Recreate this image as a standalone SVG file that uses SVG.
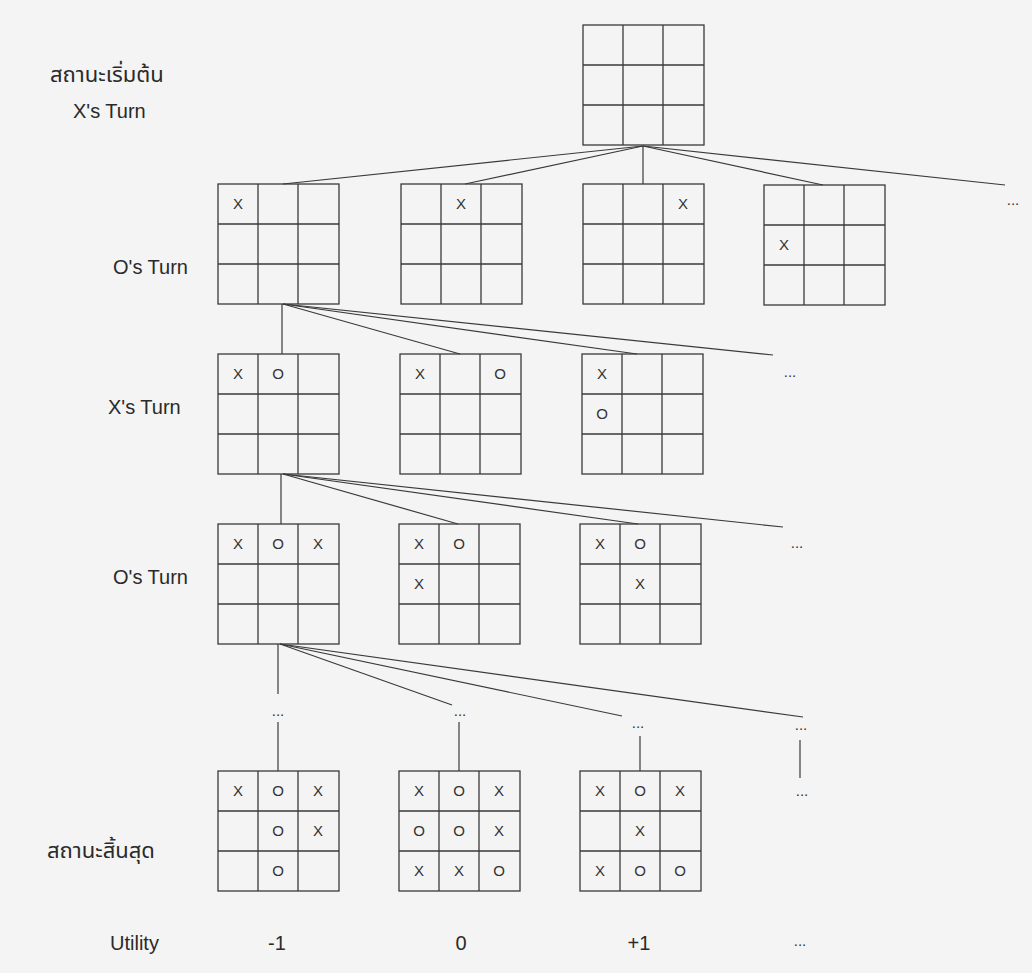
<svg xmlns="http://www.w3.org/2000/svg" width="1032" height="973" viewBox="0 0 1032 973">
<defs>
<style>
.bg{fill:#f4f4f4}
.grid{fill:none;stroke:#3a3a3a;stroke-width:1.3}
.mk{font-family:"Liberation Sans",Arial,sans-serif;font-size:15px;fill:#333;text-anchor:middle}
.lbl{font-family:"Liberation Sans",Arial,sans-serif;font-size:20px;fill:#2a2a2a}
.th{font-family:"Noto Sans Thai","Noto Sans","DejaVu Sans",sans-serif;font-size:22px;fill:#2a2a2a}
.dots{font-family:"Liberation Sans",Arial,sans-serif;font-size:15px;fill:#333;text-anchor:middle}
.util{font-family:"Liberation Sans",Arial,sans-serif;font-size:20px;fill:#2a2a2a;text-anchor:middle}
.edge{fill:none;stroke:#3a3a3a;stroke-width:1.2}
</style>
<g id="board">
<rect class="grid" x="0" y="0" width="121" height="120"/>
<line class="grid" x1="40" y1="0" x2="40" y2="120"/>
<line class="grid" x1="80" y1="0" x2="80" y2="120"/>
<line class="grid" x1="0" y1="40" x2="121" y2="40"/>
<line class="grid" x1="0" y1="80" x2="121" y2="80"/>
</g>
</defs>
<rect class="bg" x="0" y="0" width="1032" height="973"/>

<g id="labels">
<text class="th" x="50" y="82">สถานะเริ่มต้น</text>
<text class="lbl" x="73" y="118">X's Turn</text>
<text class="lbl" x="113" y="274">O's Turn</text>
<text class="lbl" x="108" y="414">X's Turn</text>
<text class="lbl" x="113" y="584">O's Turn</text>
<text class="th" x="47" y="858">สถานะสิ้นสุด</text>
<text class="lbl" x="110" y="950">Utility</text>
</g>

<g id="connectors">
<line class="edge" x1="643" y1="146" x2="283" y2="184"/>
<line class="edge" x1="643" y1="146" x2="465" y2="184"/>
<line class="edge" x1="643" y1="146" x2="643" y2="184"/>
<line class="edge" x1="643" y1="146" x2="823" y2="185"/>
<line class="edge" x1="643" y1="146" x2="1005" y2="185"/>
<line class="edge" x1="282" y1="304" x2="282" y2="354"/>
<line class="edge" x1="283" y1="304" x2="460" y2="354"/>
<line class="edge" x1="283" y1="304" x2="637" y2="354"/>
<line class="edge" x1="283" y1="304" x2="773" y2="355"/>
<line class="edge" x1="281" y1="474" x2="281" y2="524"/>
<line class="edge" x1="283" y1="474" x2="458" y2="524"/>
<line class="edge" x1="283" y1="474" x2="638" y2="524"/>
<line class="edge" x1="283" y1="474" x2="783" y2="527"/>
<line class="edge" x1="278" y1="644" x2="278" y2="694"/>
<line class="edge" x1="280" y1="644" x2="452" y2="705"/>
<line class="edge" x1="280" y1="644" x2="622" y2="716"/>
<line class="edge" x1="280" y1="644" x2="803" y2="717"/>
<line class="edge" x1="278" y1="722" x2="278" y2="771"/>
<line class="edge" x1="459" y1="722" x2="459" y2="771"/>
<line class="edge" x1="640" y1="736" x2="640" y2="771"/>
<line class="edge" x1="800" y1="740" x2="800" y2="778"/>
</g>

<g id="dots">
<text class="dots" x="1013" y="205">...</text>
<text class="dots" x="790" y="377">...</text>
<text class="dots" x="797" y="548">...</text>
<text class="dots" x="278" y="716">...</text>
<text class="dots" x="460" y="716">...</text>
<text class="dots" x="638" y="728">...</text>
<text class="dots" x="801" y="730">...</text>
<text class="dots" x="802" y="796">...</text>
</g>

<g id="root">
<use href="#board" x="583" y="25"/>
</g>

<g id="l1a"><use href="#board" x="218" y="184"/><text class="mk" x="238" y="209">X</text></g>
<g id="l1b"><use href="#board" x="401" y="184"/><text class="mk" x="461" y="209">X</text></g>
<g id="l1c"><use href="#board" x="583" y="184"/><text class="mk" x="683" y="209">X</text></g>
<g id="l1d"><use href="#board" x="764" y="185"/><text class="mk" x="784" y="250">X</text></g>

<g id="l2a"><use href="#board" x="218" y="354"/><text class="mk" x="238" y="379">X</text><text class="mk" x="278" y="379">O</text></g>
<g id="l2b"><use href="#board" x="400" y="354"/><text class="mk" x="420" y="379">X</text><text class="mk" x="500" y="379">O</text></g>
<g id="l2c"><use href="#board" x="582" y="354"/><text class="mk" x="602" y="379">X</text><text class="mk" x="602" y="419">O</text></g>

<g id="l3a"><use href="#board" x="218" y="524"/><text class="mk" x="238" y="549">X</text><text class="mk" x="278" y="549">O</text><text class="mk" x="318" y="549">X</text></g>
<g id="l3b"><use href="#board" x="399" y="524"/><text class="mk" x="419" y="549">X</text><text class="mk" x="459" y="549">O</text><text class="mk" x="419" y="589">X</text></g>
<g id="l3c"><use href="#board" x="580" y="524"/><text class="mk" x="600" y="549">X</text><text class="mk" x="640" y="549">O</text><text class="mk" x="640" y="589">X</text></g>

<g id="l4a"><use href="#board" x="218" y="771"/>
<text class="mk" x="238" y="796">X</text><text class="mk" x="278" y="796">O</text><text class="mk" x="318" y="796">X</text>
<text class="mk" x="278" y="836">O</text><text class="mk" x="318" y="836">X</text>
<text class="mk" x="278" y="876">O</text></g>
<g id="l4b"><use href="#board" x="399" y="771"/>
<text class="mk" x="419" y="796">X</text><text class="mk" x="459" y="796">O</text><text class="mk" x="499" y="796">X</text>
<text class="mk" x="419" y="836">O</text><text class="mk" x="459" y="836">O</text><text class="mk" x="499" y="836">X</text>
<text class="mk" x="419" y="876">X</text><text class="mk" x="459" y="876">X</text><text class="mk" x="499" y="876">O</text></g>
<g id="l4c"><use href="#board" x="580" y="771"/>
<text class="mk" x="600" y="796">X</text><text class="mk" x="640" y="796">O</text><text class="mk" x="680" y="796">X</text>
<text class="mk" x="640" y="836">X</text>
<text class="mk" x="600" y="876">X</text><text class="mk" x="640" y="876">O</text><text class="mk" x="680" y="876">O</text></g>

<g id="utility">
<text class="util" x="277" y="950">-1</text>
<text class="util" x="461" y="950">0</text>
<text class="util" x="639" y="950">+1</text>
<text class="dots" x="800" y="946">...</text>
</g>
</svg>
